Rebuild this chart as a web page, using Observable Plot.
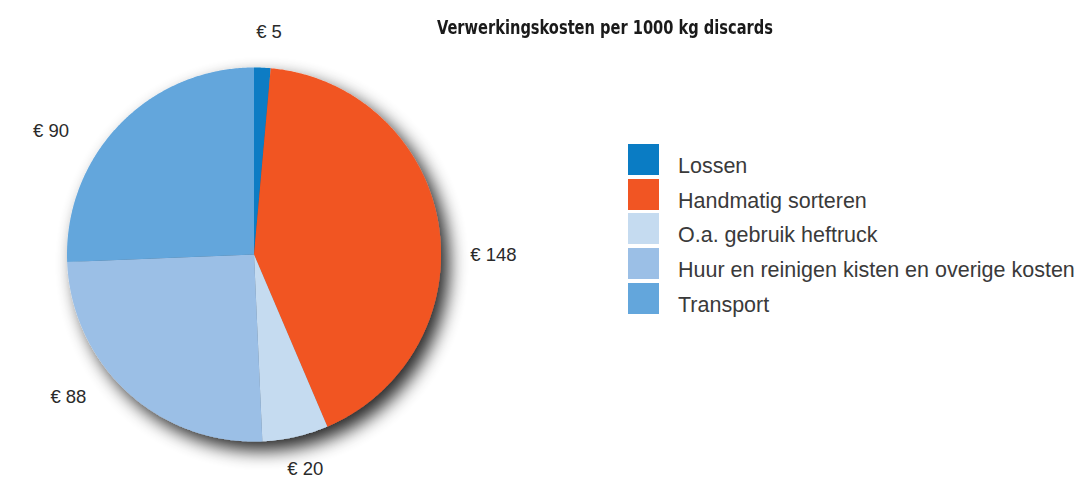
<!DOCTYPE html>
<html>
<head>
<meta charset="utf-8">
<script src="https://cdn.jsdelivr.net/npm/d3@7"></script>
<script src="https://cdn.jsdelivr.net/npm/@observablehq/plot@0.6"></script>
<style>
  html, body { margin: 0; padding: 0; background: #fff; }
  #wrap { position: relative; width: 1081px; height: 481px; overflow: hidden; }
  #title { position: absolute; left: 437px; top: 15px; white-space: nowrap; transform-origin: 0 0;
    font-family: "DejaVu Sans", sans-serif; font-stretch: condensed; font-weight: bold;
    font-size: 20px; color: #1a1a1a; }
  #legend { position: absolute; left: 628px; top: 144px; font-family: "Liberation Sans", Arial, sans-serif;
    font-size: 21.5px; color: #3a3a3a; }
  .row { position: absolute; left: 0; height: 31px; white-space: nowrap; }
  .sw { position: absolute; left: 0; top: 0; width: 31px; height: 31px; }
  .lab { position: absolute; left: 50px; top: 10px; }
  #chart { position: absolute; left: 0; top: 0; }
</style>
</head>
<body>
<div id="wrap">
  <div id="chart"></div>
  <div id="title"></div>
  <div id="legend"></div>
</div>
<script>
// ---- data ----
const titleText = "Verwerkingskosten per 1000 kg discards";
const categories = ["Lossen", "Handmatig sorteren", "O.a. gebruik heftruck", "Huur en reinigen kisten en overige kosten", "Transport"];
const costs = [5, 148, 20, 88, 90];
const colors = ["#0a7cc4", "#f15523", "#c5dbf0", "#9bbfe6", "#63a6dc"];
const valueLabels = ["€ 5", "€ 148", "€ 20", "€ 88", "€ 90"];

// ---- label styling nudges ----
const labelAngleNudge = [1.3, 9, -0.6, 10, -12.6];   // degrees
const labelRadius = [1.19, 1.28, 1.18, 1.25, 1.27];  // in pie radii

// ---- build slices from the data ----
const pie = d3.pie().sort(null).value(d => d.value);
const rows = categories.map((c, i) => ({category: c, value: costs[i], label: valueLabels[i], i}));
const arcs = pie(rows);
const pt = a => [Math.sin(a), -Math.cos(a)];
const features = arcs.map(a => {
  const n = Math.max(2, Math.ceil((a.endAngle - a.startAngle) / (Math.PI / 360)));
  const ring = [[0, 0]];
  for (let k = 0; k <= n; k++) ring.push(pt(a.startAngle + (a.endAngle - a.startAngle) * k / n));
  ring.push([0, 0]);
  return {type: "Feature", properties: {category: a.data.category}, geometry: {type: "Polygon", coordinates: [ring]}};
});
const labels = arcs.map((a, i) => {
  const m = (a.startAngle + a.endAngle) / 2 + labelAngleNudge[i] * Math.PI / 180;
  const [x, y] = pt(m);
  return {x: x * labelRadius[i], y: y * labelRadius[i], text: a.data.label};
});
const frame = {type: "Polygon", coordinates: [[[-1, -1], [1, -1], [1, 1], [-1, 1], [-1, -1]]]};

const W = 1081, H = 481;
const plot = Plot.plot({
  width: W,
  height: H,
  marginLeft: 66.5,
  marginTop: 67,
  marginRight: W - 66.5 - 374,
  marginBottom: H - 67 - 374,
  projection: {type: "identity", domain: frame, clip: false},
  color: {domain: categories, range: colors},
  style: {background: "transparent", overflow: "visible"},
  marks: [
    Plot.geo(features, {fill: d => d.properties.category}),
    Plot.text(labels, {x: "x", y: "y", text: "text", fontSize: 18.5, fill: "#2a2a2a",
      fontFamily: "Liberation Sans, Arial, sans-serif", textAnchor: "middle", lineAnchor: "middle"})
  ]
});

// drop shadow
const svg = d3.select(plot);
const defs = svg.insert("defs", ":first-child");
const f = defs.append("filter").attr("id", "pieShadow").attr("x", "-20%").attr("y", "-20%").attr("width", "150%").attr("height", "150%");
f.append("feGaussianBlur").attr("in", "SourceAlpha").attr("stdDeviation", 9).attr("result", "b");
f.append("feOffset").attr("in", "b").attr("dx", 8).attr("dy", 9).attr("result", "o");
f.append("feComponentTransfer").attr("in", "o").attr("result", "s")
  .append("feFuncA").attr("type", "linear").attr("slope", 0.85);
const mg = f.append("feMerge");
mg.append("feMergeNode").attr("in", "s");
mg.append("feMergeNode").attr("in", "SourceGraphic");
svg.select("g[aria-label='geo']").attr("filter", "url(#pieShadow)");

document.getElementById("chart").appendChild(plot);
const t = document.getElementById("title");
t.textContent = titleText;
const tw = t.getBoundingClientRect().width;
t.style.transform = `scaleX(${336 / tw})`;

const legend = d3.select("#legend");
categories.forEach((c, i) => {
  const r = legend.append("div").attr("class", "row").style("top", (i * 34.7) + "px");
  r.append("div").attr("class", "sw").style("background", colors[i]);
  r.append("div").attr("class", "lab").text(c);
});
</script>
</body>
</html>
